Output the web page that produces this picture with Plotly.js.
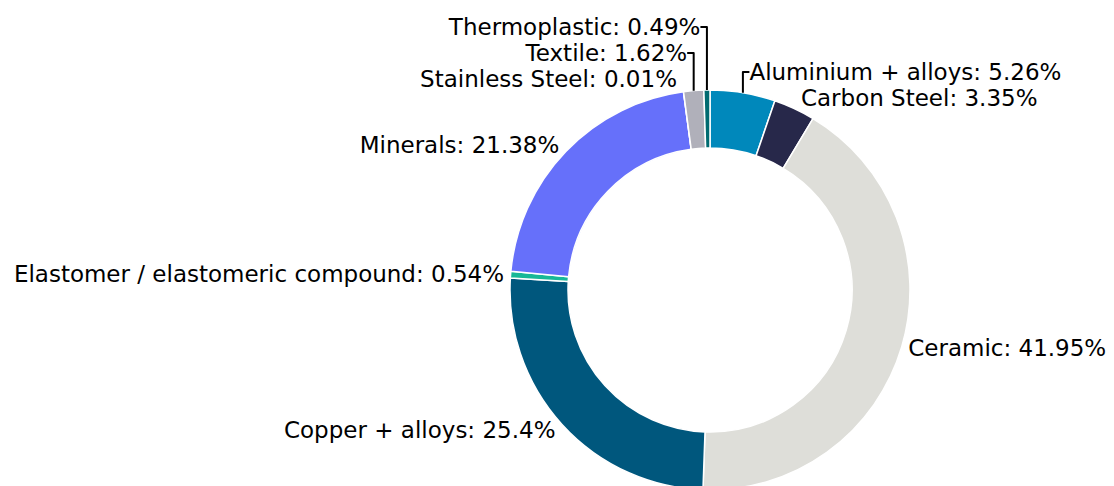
<!DOCTYPE html>
<html>
<head>
<meta charset="utf-8">
<script src="https://cdn.plot.ly/plotly-3.0.1.min.js"></script>
<style>html,body{margin:0;padding:0;background:#fff;overflow:hidden;}#chart{width:1114px;height:490px;}</style>
</head>
<body>
<div id="chart"></div>
<script>
const labels = ["Aluminium + alloys", "Carbon Steel", "Ceramic", "Copper + alloys", "Elastomer / elastomeric compound", "Minerals", "Stainless Steel", "Textile", "Thermoplastic"];
const values = [5.26, 3.35, 41.95, 25.4, 0.54, 21.38, 0.01, 1.62, 0.49];
const colors = ["#0088BB", "#27284A", "#DEDED9", "#00577D", "#17B897", "#6670FA", "#5A5A6E", "#B0B0BA", "#006B70"];

Plotly.newPlot('chart', [{
  type: 'pie',
  labels: labels,
  values: values,
  hole: 0.71,
  sort: false,
  direction: 'clockwise',
  rotation: 0,
  marker: {colors: colors, line: {color: '#ffffff', width: 1.5}},
  textposition: 'outside',
  texttemplate: '%{label}: %{value}%',
  outsidetextfont: {family: 'DejaVu Sans', size: 23, color: '#000000'},
  showlegend: false
}], {
  width: 1114, height: 490,
  margin: {l: 306, r: 0, t: 90, b: 0},
  paper_bgcolor: '#ffffff',
  font: {family: 'DejaVu Sans', size: 23, color: '#000000'},
  showlegend: false
}, {displayModeBar: false});
</script>
</body>
</html>
